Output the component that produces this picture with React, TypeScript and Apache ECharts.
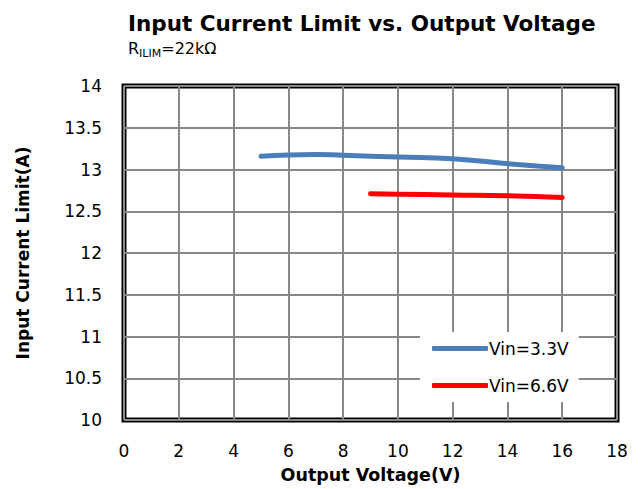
import React, { useEffect, useRef } from "react";
import * as echarts from "echarts";

const xTicks = [0, 2, 4, 6, 8, 10, 12, 14, 16, 18];
const vin33X = [5, 6, 7, 8, 10, 12, 14, 16];
const vin33Y = [13.16, 13.175, 13.18, 13.17, 13.15, 13.13, 13.07, 13.02];
const vin66X = [9, 10, 12, 14, 16];
const vin66Y = [12.71, 12.705, 12.695, 12.685, 12.665];
const seriesNames = ["Vin=3.3V", "Vin=6.6V"];
const seriesColors = ["#4a7ebb", "#ff0000"];

const FONT = "'DejaVu Sans', sans-serif";

export default function App() {
  const ref = useRef<HTMLDivElement>(null);
  useEffect(() => {
    if (!ref.current) return;
    const chart = echarts.init(ref.current, undefined, { renderer: "svg" });
    const mk = (xs: number[], ys: number[]) => xs.map((x, i) => [x, ys[i]]);
    chart.setOption({
      animation: false,
      backgroundColor: "#fff",
      textStyle: { fontFamily: FONT },
      title: {
        text: "Input Current Limit vs. Output Voltage",
        subtext: "{r|R}{s|ILIM}{r|=22kΩ}",
        left: 123,
        top: 7,
        itemGap: 6,
        textStyle: { fontFamily: FONT, fontSize: 21.5, fontWeight: "bold", color: "#000" },
        subtextStyle: {
          fontFamily: FONT,
          rich: {
            r: { fontFamily: FONT, fontSize: 16, color: "#000", verticalAlign: "bottom" },
            s: { fontFamily: FONT, fontSize: 11, color: "#000", verticalAlign: "bottom", padding: [0, 0, -3, 0] },
          },
        },
      },
      grid: {
        left: 124,
        right: 24,
        top: 86,
        bottom: 67,
        show: true,
        borderColor: "#000",
        borderWidth: 5,
        backgroundColor: "transparent",
      },
      legend: {
        orient: "vertical",
        left: 420,
        top: 332,
        itemGap: 20,
        itemWidth: 56,
        itemHeight: 5,
        padding: [8, 10, 8, 12],
        backgroundColor: "#fff",
        icon: "roundRect",
        data: seriesNames,
        textStyle: { fontFamily: FONT, fontSize: 17, color: "#000", padding: [0, 0, 0, -4] },
      },
      xAxis: {
        type: "value",
        min: 0,
        max: 18,
        interval: 2,
        name: "Output Voltage(V)",
        nameLocation: "middle",
        nameGap: 46,
        nameTextStyle: { fontFamily: FONT, fontSize: 17.5, fontWeight: "bold", color: "#000" },
        axisLine: { show: false },
        axisTick: { show: false },
        axisLabel: { fontFamily: FONT, fontSize: 17, color: "#000", margin: 22 },
        splitLine: { show: true, lineStyle: { color: "#888", width: 2 } },
      },
      yAxis: {
        type: "value",
        min: 10,
        max: 14,
        interval: 0.5,
        name: "Input Current Limit(A)",
        nameLocation: "middle",
        nameGap: 93,
        nameRotate: 90,
        nameTextStyle: { fontFamily: FONT, fontSize: 17, fontWeight: "bold", color: "#000" },
        axisLine: { show: false },
        axisTick: { show: false },
        axisLabel: { fontFamily: FONT, fontSize: 17, color: "#000", margin: 22 },
        splitLine: { show: true, lineStyle: { color: "#888", width: 2 } },
      },
      series: [
        {
          name: seriesNames[0],
          type: "line",
          smooth: true,
          showSymbol: false,
          data: mk(vin33X, vin33Y),
          lineStyle: { color: seriesColors[0], width: 5, cap: "round" },
          itemStyle: { color: seriesColors[0] },
        },
        {
          name: seriesNames[1],
          type: "line",
          smooth: true,
          showSymbol: false,
          data: mk(vin66X, vin66Y),
          lineStyle: { color: seriesColors[1], width: 5, cap: "round" },
          itemStyle: { color: seriesColors[1] },
        },
      ],
    });
    return () => chart.dispose();
  }, []);
  return (
    <div
      ref={ref}
      style={{ position: "fixed", left: 0, top: 0, width: 641, height: 489 }}
    />
  );
}
